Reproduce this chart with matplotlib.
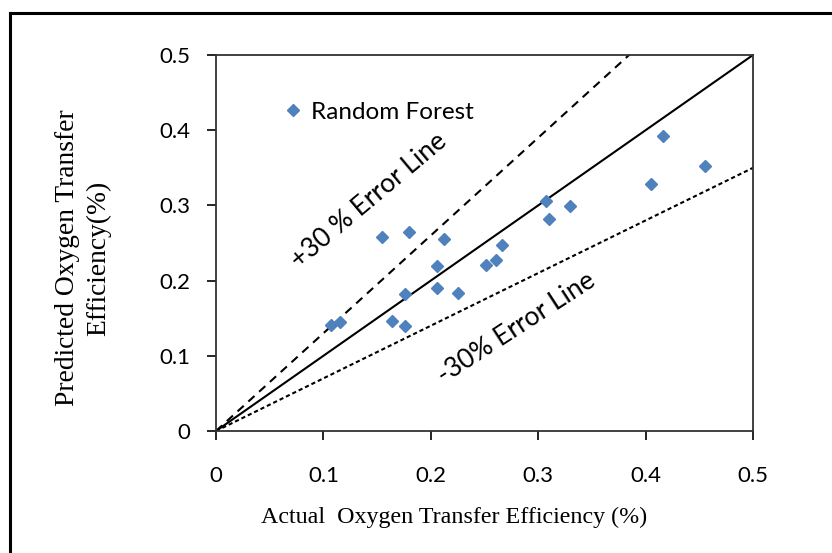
import numpy as np
import matplotlib
matplotlib.use("Agg")
import matplotlib.pyplot as plt
from matplotlib.lines import Line2D

# actual vs predicted OTE
actual = [0.107, 0.115, 0.155, 0.180, 0.212, 0.2055, 0.251, 0.261, 0.266, 0.176,
          0.2055, 0.225, 0.1635, 0.176, 0.4165, 0.455, 0.4047, 0.307, 0.310, 0.3296]
predicted = [0.141, 0.145, 0.258, 0.264, 0.255, 0.219, 0.221, 0.227, 0.248, 0.182,
             0.190, 0.183, 0.146, 0.140, 0.392, 0.353, 0.329, 0.306, 0.282, 0.299]

line_x = [0, 0.5]
ticks = [0, 0.1, 0.2, 0.3, 0.4, 0.5]
tick_labels = ["0", "0.1", "0.2", "0.3", "0.4", "0.5"]

sans = ["Lato", "DejaVu Sans"]
serif = ["Liberation Serif", "DejaVu Serif"]
blue = "#4F81BD"

fig = plt.figure(figsize=(8.32, 5.53), dpi=100)
ax = fig.add_axes([216/832, 1-431/553, 537/832, 376/553])

x = np.array(line_x)
ax.plot(x, x, color="black", lw=1.5, zorder=2)
ax.plot(x, 1.3*x, color="black", lw=1.5, dashes=(4, 3), zorder=2)
ax.plot(x, 0.7*x, color="black", lw=1.5, dashes=(2, 1.4), zorder=2)

ax.plot(actual, predicted, linestyle="none", marker="D", ms=6.2,
        color=blue, zorder=3, label="Random Forest")

ax.set_xlim(0, 0.5)
ax.set_ylim(0, 0.5)
ax.set_xticks(ticks)
ax.set_yticks(ticks)
ax.set_xticklabels(tick_labels, family=sans, fontsize=16)
ax.set_yticklabels(tick_labels, family=sans, fontsize=16)
ax.tick_params(axis="x", direction="out", length=6.5, width=1.2, pad=19)
ax.tick_params(axis="y", direction="out", length=6.5, width=1.2, pad=12)
for s in ax.spines.values():
    s.set_linewidth(1.3)
    s.set_color("#333333")

ax.text(0.1425, 0.306, "+30 % Error Line", rotation=40, rotation_mode="anchor",
        ha="center", va="center", family=sans, fontsize=19)
ax.text(0.280, 0.137, "-30% Error Line", rotation=33, rotation_mode="anchor",
        ha="center", va="center", family=sans, fontsize=19)

leg = ax.legend(loc="center left", bbox_to_anchor=(0.125, 0.848), frameon=False,
                handlelength=0.8, handletextpad=0.35, borderpad=0, borderaxespad=0,
                prop={"family": sans, "size": 17.5})

fig.text(454/832, 1-517/553, "Actual  Oxygen Transfer Efficiency (%)",
         ha="center", va="center", family=serif, fontsize=17.3)
fig.text(83/832, 1-258/553, "Predicted Oxygen Transfer\nEfficiency(%)",
         rotation=90, ha="center", va="center", multialignment="center",
         family=serif, fontsize=19.8, linespacing=1.3)

# outer frame (left and top edges visible)
fig.add_artist(Line2D([10/832, 10/832], [0, 1-13/553], color="black", lw=2.2,
                      transform=fig.transFigure))
fig.add_artist(Line2D([10/832, 1], [1-13/553, 1-13/553], color="black", lw=2.2,
                      transform=fig.transFigure))

fig.savefig("out.png", dpi=100)
